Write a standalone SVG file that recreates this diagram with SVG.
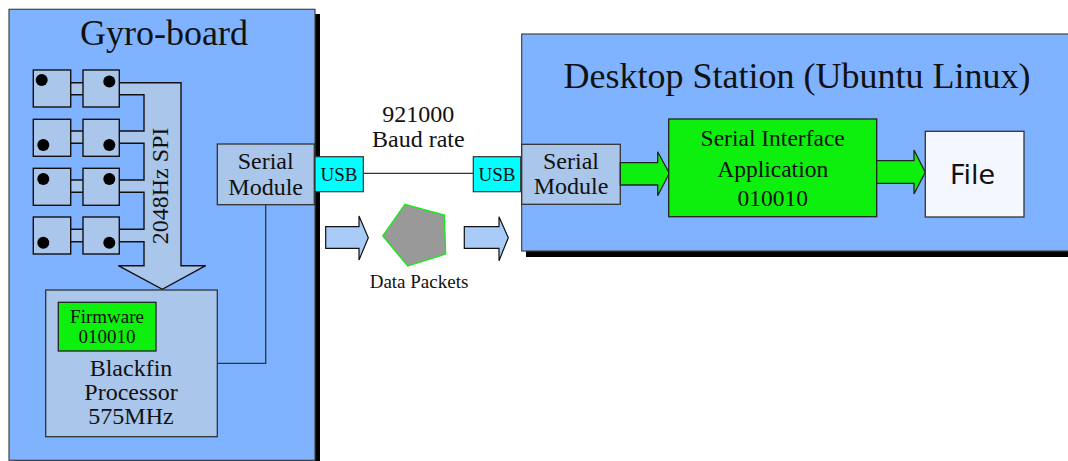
<svg xmlns="http://www.w3.org/2000/svg" width="1068" height="461" viewBox="0 0 1068 461">
<style>
text{font-family:"Liberation Serif","Times New Roman",serif;fill:#111;text-anchor:middle}
.big{fill:#80b3ff;stroke:#444;stroke-width:1.2}
.inner{fill:#aac6ea;stroke:#333;stroke-width:1.3}
.sq{fill:#aac6ea;stroke:#111;stroke-width:1.4}
.grn{fill:#0df00d;stroke:#222;stroke-width:1.3}
.usb{fill:#00ffff;stroke:#333;stroke-width:1.2}
.conn{fill:none;stroke:#333;stroke-width:1.3}
.dot{fill:#000}
.barrow{fill:#a9cbf8;stroke:#111;stroke-width:1.2}
</style>
<g id="gyro-board">
<rect x="14" y="14" width="306" height="450" fill="#000"/>
<rect class="big" x="9" y="9.3" width="306" height="451"/>
<text x="164" y="45" font-size="36">Gyro-board</text>
</g>
<g id="desktop-station">
<rect x="526" y="39" width="560" height="218" fill="#000"/>
<rect class="big" x="521.7" y="34" width="560" height="217"/>
<text x="797" y="88" font-size="36">Desktop Station (Ubuntu Linux)</text>
</g>
<g id="spi-arrow">
<path class="sq" d="M119,82.7 H181 V265.7 H205.7 L162.3,289.3 L118.3,265.7 H144 V241.7 H119 V229.3 H144 V192.3 H119 V180 H144 V143.3 H119 V131 H144 V94.7 H119 Z"/>
<text transform="translate(168,186) rotate(-90)" font-size="24">2048Hz SPI</text>
</g>
<g id="sensors">
<g id="sensor-row1">
<rect x="71" y="82.7" width="12" height="12" fill="#aac6ea"/>
<path d="M71,82.7H83M71,94.7H83" stroke="#111" stroke-width="1.4"/>
<rect class="sq" x="33.3" y="70" width="37.4" height="37"/>
<rect class="sq" x="83" y="70" width="36.3" height="37"/>
<circle class="dot" cx="41.7" cy="80" r="6"/>
<circle class="dot" cx="109.3" cy="81.5" r="6"/>
</g>
<g id="sensor-row2">
<rect x="71" y="131" width="12" height="12.3" fill="#aac6ea"/>
<path d="M71,131H83M71,143.3H83" stroke="#111" stroke-width="1.4"/>
<rect class="sq" x="33.3" y="119.3" width="37.4" height="37"/>
<rect class="sq" x="83" y="119.3" width="36.3" height="37"/>
<circle class="dot" cx="43.3" cy="145" r="6"/>
<circle class="dot" cx="109.3" cy="145" r="6"/>
</g>
<g id="sensor-row3">
<rect x="71" y="180" width="12" height="12.3" fill="#aac6ea"/>
<path d="M71,180H83M71,192.3H83" stroke="#111" stroke-width="1.4"/>
<rect class="sq" x="33.3" y="168.3" width="37.4" height="37"/>
<rect class="sq" x="83" y="168.3" width="36.3" height="37"/>
<circle class="dot" cx="43.3" cy="179" r="6"/>
<circle class="dot" cx="109.3" cy="179" r="6"/>
</g>
<g id="sensor-row4">
<rect x="71" y="229.3" width="12" height="12.4" fill="#aac6ea"/>
<path d="M71,229.3H83M71,241.7H83" stroke="#111" stroke-width="1.4"/>
<rect class="sq" x="33.3" y="217" width="37.4" height="37"/>
<rect class="sq" x="83" y="217" width="36.3" height="37"/>
<circle class="dot" cx="43.3" cy="242.7" r="6"/>
<circle class="dot" cx="109.3" cy="242.7" r="6"/>
</g>
</g>
<g id="connectors">
<polyline class="conn" points="265.7,204.7 265.7,363.3 217.3,363.3"/>
<line class="conn" x1="363" y1="173.3" x2="473.3" y2="173.3"/>
</g>
<g id="blackfin">
<rect class="inner" x="45.7" y="290" width="171.6" height="146.7"/>
<text x="131" y="376" font-size="24">Blackfin</text>
<text x="131" y="399.5" font-size="24">Processor</text>
<text x="131" y="424" font-size="24">575MHz</text>
</g>
<g id="firmware">
<rect class="grn" x="58.3" y="302.3" width="97.7" height="48.7"/>
<text x="107" y="323.3" font-size="19">Firmware</text>
<text x="107" y="342.7" font-size="19">010010</text>
</g>
<g id="serial-module-gyro">
<rect class="inner" x="217.3" y="144" width="97" height="60.7"/>
<text x="265.7" y="169.3" font-size="24">Serial</text>
<text x="265.7" y="194.7" font-size="24">Module</text>
</g>
<g id="usb-left">
<rect class="usb" x="315" y="156.7" width="48.3" height="35"/>
<text x="339" y="180.7" font-size="19">USB</text>
</g>
<g id="usb-right">
<rect class="usb" x="473.3" y="156.7" width="47.4" height="35"/>
<text x="497" y="180.7" font-size="19">USB</text>
</g>
<g id="baud-label">
<text x="418.3" y="121.7" font-size="24">921000</text>
<text x="418.3" y="146.7" font-size="24">Baud rate</text>
</g>
<g id="data-packets">
<path class="barrow" d="M325.7,226.7 H359 V216 L368.3,237.7 L359,260 V248.3 H325.7 Z"/>
<polygon points="405,204.3 444.3,215 445.7,254 407.7,266 382.7,236" fill="#999" stroke="#11ee11" stroke-width="1.3"/>
<path class="barrow" d="M464.3,226.7 H499 V216.7 L508.3,237.7 L499,260.7 V248.3 H464.3 Z"/>
<text x="419" y="288.3" font-size="19">Data Packets</text>
</g>
<g id="serial-module-desktop">
<rect class="inner" x="521.7" y="144.3" width="98.6" height="60"/>
<text x="571" y="169.3" font-size="24">Serial</text>
<text x="571" y="194" font-size="24">Module</text>
</g>
<g id="arrow-to-app">
<path class="grn" d="M620.3,162.7 H657.7 V151.7 L669.3,173.3 L657.7,195.7 V185 H620.3 Z"/>
</g>
<g id="serial-app">
<rect class="grn" x="668.7" y="119" width="208" height="97.7"/>
<text x="772.7" y="146" font-size="23.5">Serial Interface</text>
<text x="772.7" y="176.7" font-size="23.5">Application</text>
<text x="772.7" y="205.7" font-size="23.5">010010</text>
</g>
<g id="arrow-to-file">
<path class="grn" d="M876.7,160.7 H914 V150 L925.3,172.3 L914,194 V183.3 H876.7 Z"/>
</g>
<g id="file">
<rect x="925.3" y="131.3" width="98.7" height="85.7" fill="#f4f7ff" stroke="#333" stroke-width="1.3"/>
<text x="972.5" y="184.3" font-size="27" style="font-family:'DejaVu Sans',sans-serif">File</text>
</g>
</svg>
